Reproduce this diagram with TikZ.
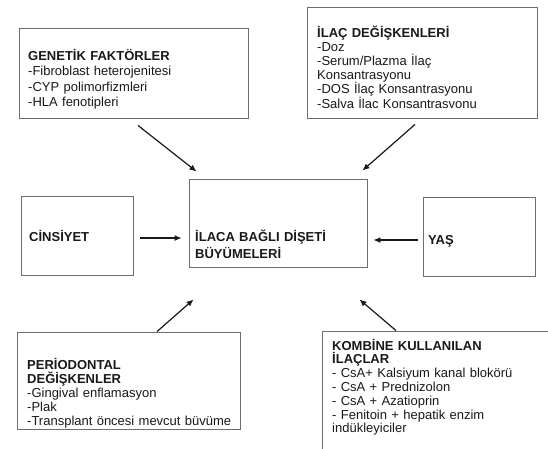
\documentclass[tikz,border=0pt]{standalone}
\usepackage{fontspec}
\setmainfont{Liberation Sans}
\usetikzlibrary{arrows.meta}
\definecolor{kutugri}{RGB}{110,110,110}
\definecolor{yazisiyah}{RGB}{25,25,25}

\begin{document}
\begin{tikzpicture}[x=1pt, y=-1pt,
    kutu/.style={draw=kutugri, line width=0.9pt, fill=white, inner sep=0pt},
    yazi/.style={anchor=base west, inner sep=0pt, align=left, text width=225pt, font=\fontsize{13}{14.5}\selectfont, text=yazisiyah},
    ok/.style={-{Latex[length=7pt,width=6pt]}, line width=1.2pt, draw=yazisiyah}
  ]
  \useasboundingbox[fill=white] (0,0) rectangle (548,448);

  % kutular
  \node[kutu, minimum width=229pt, minimum height=90pt] (genetik) at (133.5,73) {};
  \node[kutu, minimum width=230pt, minimum height=111pt] (ilac) at (422,62.5) {};
  \node[kutu, minimum width=178pt, minimum height=88pt] (merkez) at (278,223) {};
  \node[kutu, minimum width=112pt, minimum height=79pt] (cinsiyet) at (77,235.5) {};
  \node[kutu, minimum width=112pt, minimum height=79pt] (yas) at (479,236.5) {};
  \node[kutu, minimum width=223pt, minimum height=97pt] (periodontal) at (128.5,380.5) {};
  \node[kutu, minimum width=240pt, minimum height=130pt] (kombine) at (442,396) {};

  % yazilar
  \node[yazi, font=\fontsize{13}{15.5}\selectfont] (genetikyazi) at (28,60) {
    \textbf{GENETİK FAKTÖRLER}\\
    -Fibroblast heterojenitesi\\
    -CYP polimorfizmleri\\
    -HLA fenotipleri
  };
  \node[yazi, font=\fontsize{13}{14.2}\selectfont] (ilacyazi) at (317,37) {
    \textbf{İLAÇ DEĞİŞKENLERİ}\\
    -Doz\\
    -Serum/Plazma İlaç\\
    Konsantrasyonu\\
    -DOS İlaç Konsantrasyonu\\
    -Salva İlac Konsantrasvonu
  };
  \node[yazi, font=\fontsize{13}{17}\selectfont] (merkezyazi) at (195,241) {
    \textbf{İLACA BAĞLI DİŞETİ}\\
    \textbf{BÜYÜMELERİ}
  };
  \node[yazi] (cinsiyetyazi) at (29,241.5) {\textbf{CİNSİYET}};
  \node[yazi] (yasyazi) at (428,244) {\textbf{YAŞ}};
  \node[yazi, font=\fontsize{13}{14}\selectfont] (periodontalyazi) at (27,369) {
    \textbf{PERİODONTAL}\\
    \textbf{DEĞİŞKENLER}\\
    -Gingival enflamasyon\\
    -Plak\\
    -Transplant öncesi mevcut büvüme
  };
  \node[yazi, font=\fontsize{13}{13.8}\selectfont] (kombineyazi) at (332,350) {
    \textbf{KOMBİNE KULLANILAN}\\
    \textbf{İLAÇLAR}\\
    - CsA+ Kalsiyum kanal blokörü\\
    - CsA + Prednizolon\\
    - CsA + Azatioprin\\
    - Fenitoin + hepatik enzim\\
    indükleyiciler
  };

  % oklar
  \draw[ok] ([shift={(4.5,7)}]genetik.south) -- ([shift={(8,-7)}]merkez.north west);
  \draw[ok] ([shift={(-7,6)}]ilac.south) -- ([shift={(-5,-8)}]merkez.north east);
  \draw[ok] ([shift={(7,2.5)}]cinsiyet.east) -- ([shift={(-7,15)}]merkez.west);
  \draw[ok] ([shift={(-5,3.5)}]yas.west) -- ([shift={(6,17)}]merkez.east);
  \draw[ok] ([shift={(28.5,0)}]periodontal.north) -- ([shift={(5,32)}]merkez.south west);
  \draw[ok] ([shift={(-46,0)}]kombine.north) -- ([shift={(-8,32)}]merkez.south east);
\end{tikzpicture}
\end{document}
